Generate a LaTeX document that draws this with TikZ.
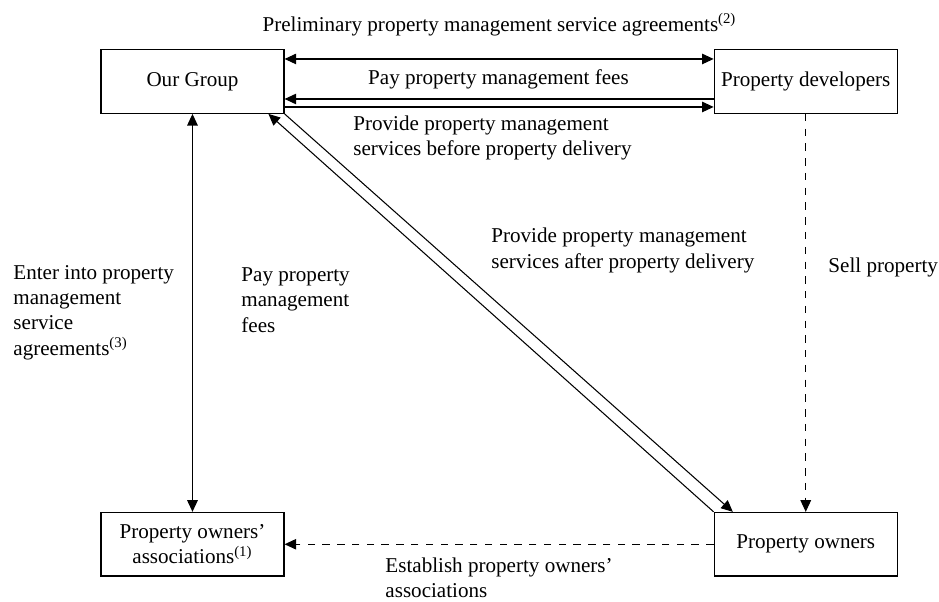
\documentclass[tikz,border=0pt]{standalone}
\usepackage{fontspec}
\setmainfont{Liberation Serif}
\usepackage{tikz}
\usetikzlibrary{arrows.meta,positioning}
\tikzset{
  box/.style={rectangle, draw, line width=0.6pt, minimum width=3.05cm, minimum height=1.06cm, align=center, inner sep=2pt},
  lbl/.style={inner sep=0pt, align=left, anchor=west},
  arr/.style={-{Triangle[length=5.5pt,width=5pt]}, line width=0.5pt},
  dbl/.style={{Triangle[length=5.5pt,width=5pt]}-{Triangle[length=5.5pt,width=5pt]}, line width=0.5pt},
  dsh/.style={arr, dash pattern=on 3.5pt off 3.5pt}
}
\begin{document}
\begin{tikzpicture}[node distance=6.632cm and 7.15cm]
\useasboundingbox (0,0) rectangle (15.65,10.033);
\node[box] (grp) at (3.208,8.675) {Our Group};
\node[box, right=of grp] (dev) {Property developers};
\node[box, below=of grp] (poa) {Property owners'\\associations\textsuperscript{(1)}};
\node[box, right=of poa] (own) {Property owners};

\node[inner sep=0pt] (prelim) at (8.325,9.617) {Preliminary property management service agreements\textsuperscript{(2)}};
\node[inner sep=0pt] (payfee) at (8.308,8.717) {Pay property management fees};
\node[lbl] (before) at (5.883,7.733) {Provide property management\\services before property delivery};
\node[lbl] (after) at (8.183,5.858) {Provide property management\\services after property delivery};
\node[lbl] (sell) at (13.8,5.583) {Sell property};
\node[lbl] (enter) at (0.217,4.825) {Enter into property\\management\\service\\agreements\textsuperscript{(3)}};
\node[lbl] (payleft) at (4.017,5.033) {Pay property\\management\\fees};
\node[lbl] (establish) at (6.417,0.4) {Establish property owners'\\associations};

\draw[dbl] ([yshift=3.75mm]grp.east) -- ([yshift=3.75mm]dev.west);
\draw[arr] ([yshift=-2.92mm]dev.west) -- ([yshift=-2.92mm]grp.east);
\draw[arr] ([yshift=-4.25mm]grp.east) -- ([yshift=-4.25mm]dev.west);
\draw[dbl] (grp) -- (poa);
\draw[dsh] (dev) -- (own);
\draw[dsh] (own) -- (poa);
\draw[arr] (grp.south east) -- ([xshift=3.2mm]own.north west);
\draw[arr] (own.north west) -- ([xshift=-2.7mm]grp.south east);
\end{tikzpicture}
\end{document}
